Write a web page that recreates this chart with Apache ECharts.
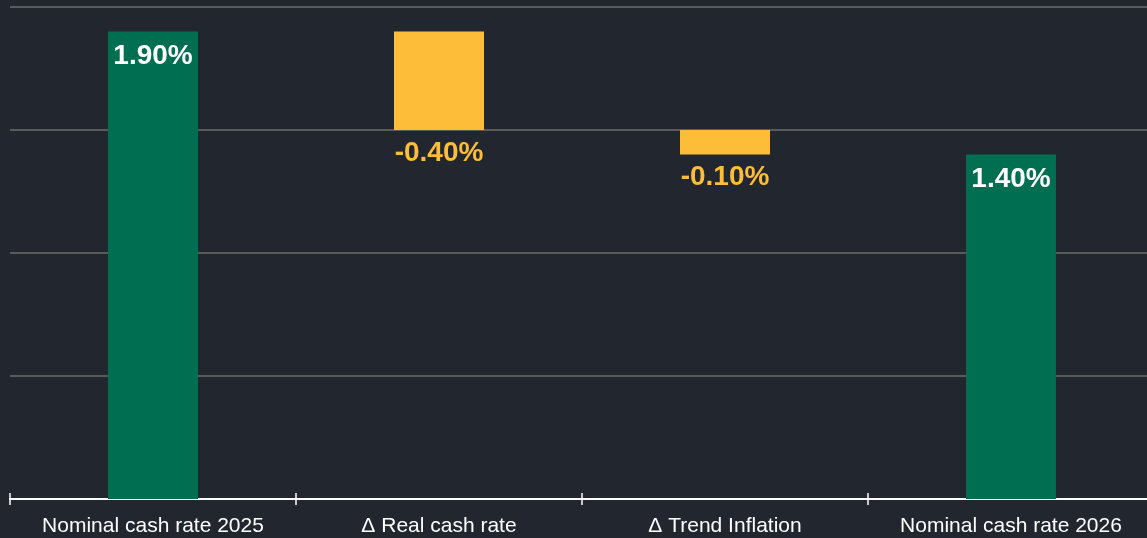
<!DOCTYPE html>
<html lang="en">
<head>
    <meta charset="utf-8"/>
    <title>Cash rate waterfall</title>
    <script src="https://cdn.jsdelivr.net/npm/echarts@6/dist/echarts.min.js"></script>
    <style>
        html, body {
            height: 100%;
            margin: 0;
            background: #22272f;
        }

        .chart {
            width: 1147px;
            height: 538px;
        }
    </style>
</head>
<body>
<div class="chart"></div>
<script>
    const categories = ["Nominal cash rate 2025", "\u0394 Real cash rate", "\u0394 Trend Inflation", "Nominal cash rate 2026"];
    const values = [1.9, -0.4, -0.1, 1.4];
    const isTotal = [true, false, false, true];

    const GREEN = "#006f51";
    const YELLOW = "#fdbd39";

    // invisible base + visible part for the waterfall
    let base = [];
    let shown = [];
    let running = 0;
    for (let i = 0; i < values.length; i++) {
        if (isTotal[i]) {
            base.push(0);
            shown.push(values[i]);
            running = values[i];
        } else {
            running += values[i];
            base.push(running);
            shown.push(-values[i]);
        }
    }

    const chart = echarts.init(document.querySelector(".chart"));
    const option = {
        backgroundColor: "#22272f",
        animation: false,
        grid: {left: 10, width: 1144, top: 7, height: 492, outerBoundsMode: "none", containLabel: false},
        xAxis: [{
            type: "category",
            data: categories,
            axisLine: {lineStyle: {color: "#ffffff", width: 2}},
            axisTick: {show: true, length: 6, lineStyle: {color: "#ffffff", width: 1.5}},
            axisLabel: {
                interval: 0,
                color: "#ffffff",
                fontSize: 21,
                fontFamily: "Liberation Sans, Arial, sans-serif",
                margin: 17
            }
        }, {
            type: "category",
            data: categories,
            position: "bottom",
            axisLine: {show: false},
            axisTick: {show: true, inside: true, length: 6, lineStyle: {color: "#ffffff", width: 1.5}},
            axisLabel: {show: false}
        }],
        yAxis: {
            type: "value",
            min: 0,
            max: 2,
            interval: 0.5,
            axisLabel: {show: false},
            axisLine: {show: false},
            axisTick: {show: false},
            splitLine: {lineStyle: {color: "#6c6c6c", width: 1.5}}
        },
        series: [{
            type: "bar",
            stack: "wf",
            barWidth: 90,
            silent: true,
            itemStyle: {color: "transparent"},
            data: base
        }, {
            type: "bar",
            stack: "wf",
            barWidth: 90,
            data: shown.map((v, i) => ({
                value: v,
                itemStyle: {color: isTotal[i] ? GREEN : YELLOW},
                label: isTotal[i]
                    ? {position: "insideTop", distance: 11, color: "#ffffff"}
                    : {position: "bottom", distance: 9, color: YELLOW}
            })),
            label: {
                show: true,
                fontSize: 28,
                fontWeight: "bold",
                fontFamily: "Liberation Sans, Arial, sans-serif",
                formatter: p => values[p.dataIndex].toFixed(2) + "%"
            }
        }]
    };
    chart.setOption(option);
</script>
</body>
</html>
